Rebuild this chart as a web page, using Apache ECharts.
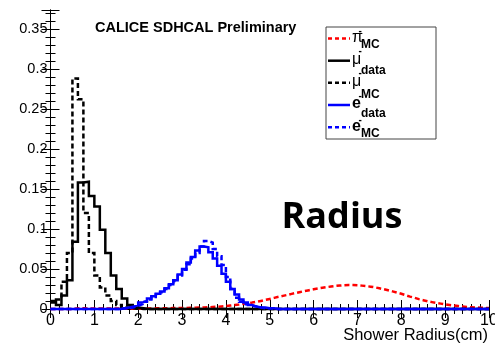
<!DOCTYPE html>
<html><head><meta charset="utf-8">
<script src="https://cdn.jsdelivr.net/npm/echarts@6/dist/echarts.min.js"></script>
<style>html,body{margin:0;padding:0;background:#fff}#c{width:495px;height:343px}</style>
</head><body><div id="c"></div>
<script>
// ---- tick labels ----
const xTickLabels = ['0','1','2','3','4','5','6','7','8','9','10'];
const yTickLabels = ['0','0.05','0.1','0.15','0.2','0.25','0.3','0.35'];

// ---- histograms (bin contents) ----
// muons: bin width 0.125, first bin starts at 0
const muBinWidth = 0.125;
const muStart = 0;
const muData = [0.010,0.005,0.017,0.036,0.084,0.158,0.159,0.141,0.128,0.099,0.070,0.042,0.025,0.013,0.005,0.002,0.001];
const muMC   = [0.008,0.012,0.034,0.070,0.288,0.262,0.120,0.070,0.042,0.027,0.017,0.010,0.005,0.002,0.001,0.0005];

// electrons: bin width 0.1, first bin starts at 1.5
const eBinWidth = 0.1;
const eStart = 1.5;
const eData = [0.000,0.001,0.002,0.003,0.005,0.008,0.010,0.013,0.016,0.019,
               0.022,0.026,0.031,0.036,0.043,0.050,0.058,0.065,0.073,0.078,
               0.077,0.071,0.063,0.054,0.044,0.034,0.025,0.018,0.012,0.008,
               0.005,0.003,0.002,0.002,0.001,0.001];
const eMC   = [0.000,0.001,0.001,0.002,0.004,0.006,0.009,0.012,0.015,0.018,
               0.021,0.025,0.030,0.035,0.042,0.049,0.056,0.063,0.070,0.078,
               0.085,0.083,0.075,0.066,0.055,0.040,0.025,0.014,0.009,0.006,
               0.004,0.003,0.002,0.001,0.001,0.0005];

// pions: bin width 0.1, first bin starts at 0.5
const piBinWidth = 0.1;
const piStart = 0.5;
const piMC = [0.0005,0.001,0.001,0.0005,0.0005,0.0005,0.0005,0.0005,0.0005,0.0005,
              0.0005,0.0005,0.0005,0.0005,0.0005,0.0005,0.0006,0.0007,0.0008,0.0009,
              0.0010,0.0010,0.0011,0.0012,0.0013,0.0014,0.0015,0.0017,0.0019,0.0020,
              0.0022,0.0025,0.0028,0.0032,0.0037,0.0043,0.0050,0.0056,0.0064,0.0072,
              0.0080,0.0090,0.0101,0.0113,0.0126,0.0139,0.0152,0.0164,0.0176,0.0189,
              0.0201,0.0213,0.0224,0.0235,0.0246,0.0256,0.0265,0.0273,0.0281,0.0288,
              0.0293,0.0298,0.0301,0.0300,0.0297,0.0292,0.0286,0.0279,0.0270,0.0259,
              0.0247,0.0234,0.0220,0.0205,0.0190,0.0172,0.0155,0.0140,0.0123,0.0110,
              0.0097,0.0086,0.0076,0.0067,0.0058,0.0050,0.0043,0.0037,0.0031,0.0026,
              0.0022,0.0019,0.0016,0.0014,0.0012];

// legend text
const legendMain = ['\u03c0','\u03bc','\u03bc','e','e'];
const legendSub  = ['MC','data','MC','data','MC'];

const X_MIN = 0, X_MAX = 10;

function histPoints(start, width, vals) {
  const n = Math.round((X_MAX - X_MIN) / width);
  const off = Math.round((start - X_MIN) / width);
  const full = new Array(n).fill(0);
  vals.forEach((v, i) => { if (off + i < n) full[off + i] = v; });
  const pts = full.map((v, i) => [X_MIN + i * width, v]);
  pts.push([X_MAX, full[n - 1]]);
  return pts;
}

const FONT = '"Liberation Sans", Arial, Helvetica, sans-serif';
const dashPat = [5, 3];

function histSeries(name, pts, color, dashed, width) {
  return {
    name, type: 'line', step: 'end', data: pts, symbol: 'none', clip: false,
    lineStyle: { color, width, type: dashed ? dashPat : 'solid', cap: 'butt', join: 'miter' },
    emphasis: { disabled: true }, animation: false
  };
}

const chart = echarts.init(document.getElementById('c'), null, { renderer: 'canvas' });

const Y_MAX = 0.3735;
const grid = { left: 50.5, right: 6, top: 10, bottom: 34, containLabel: false, outerBoundsMode: 'none' };

const axisCommon = {
  axisLine: { show: true, lineStyle: { color: '#000', width: 1 } },
  axisTick: { show: true, inside: true, length: 9, lineStyle: { color: '#000', width: 1 } },
  minorTick: { show: true, splitNumber: 5, length: 5, lineStyle: { color: '#000', width: 1 } },
  splitLine: { show: false }
};

const legendRows = [
  { color: '#ff0000', dashed: true },
  { color: '#000000', dashed: false },
  { color: '#000000', dashed: true },
  { color: '#0000ff', dashed: false },
  { color: '#0000ff', dashed: true }
];
const legendGraphics = [];
const boxX = 326, boxY = 27, boxW = 110, boxH = 112;
legendGraphics.push({ type: 'rect', shape: { x: boxX, y: boxY, width: boxW, height: boxH },
  style: { fill: '#fff', stroke: '#444', lineWidth: 1 }, z: 10 });
const rowYs = [38.5, 60.7, 82.7, 105, 127.3];
const subDy = [6, 10, 12, 8.5, 6];
const supDy = [-7, -9, -9, -9, -7];
legendRows.forEach((r, i) => {
  const y = rowYs[i];
  legendGraphics.push({ type: 'line', shape: { x1: 328, y1: y, x2: 350, y2: y },
    style: { stroke: r.color, lineWidth: 2.5, lineDash: r.dashed ? [4, 3] : null }, z: 11 });
  const isE = legendMain[i] === 'e';
  legendGraphics.push({ type: 'text', x: 352, y: y - 1, z: 11,
    style: { text: legendMain[i], font: (isE ? 'bold ' : '') + '16px ' + FONT, fill: '#000',
      textAlign: 'left', textVerticalAlign: 'middle' } });
  legendGraphics.push({ type: 'text', x: 358.5, y: y + supDy[i], z: 11,
    style: { text: '-', font: 'bold 10px ' + FONT, fill: '#000', textAlign: 'left', textVerticalAlign: 'middle' } });
  legendGraphics.push({ type: 'text', x: 361, y: y + subDy[i], z: 11,
    style: { text: legendSub[i], font: 'bold 12px ' + FONT, fill: '#000', textAlign: 'left', textVerticalAlign: 'middle' } });
});

const option = {
  backgroundColor: '#fff',
  animation: false,
  grid,
  xAxis: [
    Object.assign({}, axisCommon, {
      type: 'value', min: X_MIN, max: X_MAX, interval: 1, position: 'bottom',
      axisLabel: { show: true, color: '#000', fontFamily: FONT, fontSize: 16, margin: 4,
        alignMaxLabel: 'center', alignMinLabel: 'center',
        formatter: v => xTickLabels[Math.round(v)] ?? '' }
    }),
    Object.assign({}, axisCommon, {
      type: 'value', min: X_MIN, max: X_MAX, interval: 1, position: 'top',
      axisLabel: { show: false }
    })
  ],
  yAxis: [
    Object.assign({}, axisCommon, {
      type: 'value', min: 0, max: Y_MAX, interval: 0.05, position: 'left',
      axisLabel: { show: true, color: '#000', fontFamily: FONT, fontSize: 14.5, margin: 3, showMaxLabel: false,
        formatter: v => { const k = Math.round(v / 0.05); return Math.abs(v - k * 0.05) < 1e-6 ? (yTickLabels[k] ?? '') : ''; } }
    }),
    Object.assign({}, axisCommon, {
      type: 'value', min: 0, max: Y_MAX, interval: 0.05, position: 'right',
      axisLabel: { show: false }
    })
  ],
  series: [
    histSeries('pi MC', histPoints(piStart, piBinWidth, piMC), '#ff0000', true, 2.5),
    histSeries('mu data', histPoints(muStart, muBinWidth, muData), '#000000', false, 2.5),
    histSeries('mu MC', histPoints(muStart, muBinWidth, muMC), '#000000', true, 2.5),
    histSeries('e data', histPoints(eStart, eBinWidth, eData), '#0000ff', false, 2.5),
    histSeries('e MC', histPoints(eStart, eBinWidth, eMC), '#0000ff', true, 2.5)
  ],
  graphic: [
    { type: 'text', x: 95, y: 28, z: 5,
      style: { text: 'CALICE SDHCAL Preliminary', font: 'bold 14.5px ' + FONT, fill: '#000',
        textAlign: 'left', textVerticalAlign: 'middle' } },
    { type: 'text', x: 342, y: 218, z: 5,
      style: { text: 'Radius', font: 'bold 36px "Open Sans", sans-serif', fill: '#000',
        textAlign: 'center', textVerticalAlign: 'middle' } },
    { type: 'text', x: 488, y: 335, z: 5,
      style: { text: 'Shower Radius(cm)', font: '16.5px ' + FONT, fill: '#000',
        textAlign: 'right', textVerticalAlign: 'middle' } }
  ].concat(legendGraphics)
};
chart.setOption(option);
</script>
</body></html>
